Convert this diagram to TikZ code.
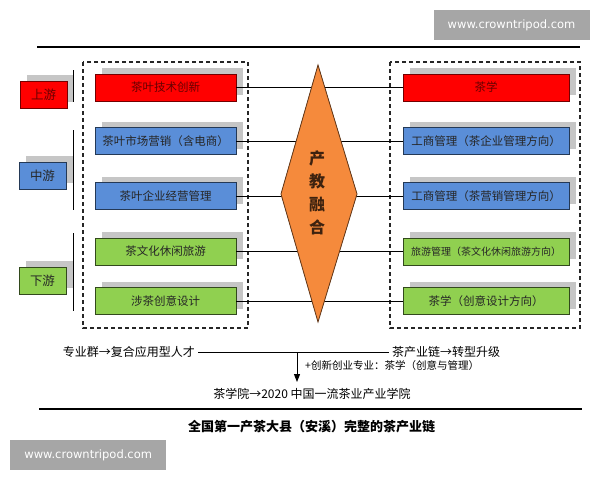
\documentclass[tikz,border=0pt]{standalone}
\usepackage{fontspec}
\setmainfont{Noto Sans CJK SC}
\newfontfamily\webfont{DejaVu Sans}
\usetikzlibrary{arrows.meta,shadows}
\definecolor{upred}{HTML}{FF0000}
\definecolor{midblue}{HTML}{5A8ED8}
\definecolor{downgreen}{HTML}{90D050}
\definecolor{fuseorange}{HTML}{F58A3C}
\definecolor{shade}{HTML}{C6C6C6}
\definecolor{markgray}{HTML}{A6A6A6}

\begin{document}
\begin{tikzpicture}[x=1pt,y=-1pt,>={Triangle[length=8pt,width=6pt]},
 box/.style={draw,line width=0.8pt,minimum height=27pt,inner sep=1pt,font=\fontsize{11.5}{13}\selectfont,
  general shadow={fill=shade,shadow xshift=7pt,shadow yshift=6pt}},
 lbox/.style={box,minimum width=141pt},
 rbox/.style={box,minimum width=166pt},
 lvl/.style={box,minimum width=47pt,font=\fontsize{12.5}{14}\selectfont},
 redbox/.style={fill=upred,draw=upred!45!black,text=upred!40!black},
 bluebox/.style={fill=midblue,draw=midblue!40!black,text=black!85},
 greenbox/.style={fill=downgreen,draw=downgreen!35!black,text=black!85},
 frame/.style={draw=black!85,line width=1.3pt,dash pattern=on 4pt off 3pt},
 rule/.style={line width=2pt},
 wmark/.style={fill=markgray,text=white,font=\webfont\fontsize{11.5}{13}\selectfont,minimum width=156pt,minimum height=30pt,inner sep=0pt},
 note/.style={font=\fontsize{12}{14}\selectfont,inner sep=3pt}]
\useasboundingbox[fill=white] (0,0) rectangle (600,480);
\node[wmark] (wtop) at (511.5,25) {www.crowntripod.com};
\node[wmark,anchor=north west] (wbot) at (10,440) {www.crowntripod.com};
\draw[rule] (37,47) -- (580,47);
% dashed frames
\draw[frame] (83,62) rectangle (248,328);
\draw[frame] (390,62) rectangle (580,328);
% levels
\node[lvl,redbox] (up) at (43.5,94.5) {上游};
\node[lvl,bluebox] (mid) at (42.5,175.5) {中游};
\node[lvl,greenbox] (down) at (42.5,280.5) {下游};
\draw[line width=1pt] (73,70) -- (73,102);
\draw[line width=1pt] (73,130) -- (73,210);
\draw[line width=1pt] (73,233) -- (73,311);
% majors (left) and programmes (right)
\node[lbox,redbox] (l1) at (165.5,87.5) {茶叶技术创新};
\node[lbox,bluebox] (l2) at (165.5,141) {茶叶市场营销（含电商）};
\node[lbox,bluebox] (l3) at (165.5,196) {茶叶企业经营管理};
\node[lbox,greenbox] (l4) at (165.5,251.5) {茶文化休闲旅游};
\node[lbox,greenbox] (l5) at (165.5,301) {涉茶创意设计};
\node[rbox,redbox] (r1) at (486,87.5) {茶学};
\node[rbox,bluebox] (r2) at (486,141) {工商管理（茶企业管理方向）};
\node[rbox,bluebox] (r3) at (486,196) {工商管理（茶营销管理方向）};
\node[rbox,greenbox,font=\fontsize{10}{12}\selectfont] (r4) at (486,251.5) {旅游管理（茶文化休闲旅游方向）};
\node[rbox,greenbox] (r5) at (486,301) {茶学（创意设计方向）};
% fusion diamond
\coordinate (dtop) at (318,65);
\coordinate (dright) at (357,194);
\coordinate (dbot) at (318,322);
\coordinate (dleft) at (281,194);
\fill[shade,xshift=8pt,yshift=6pt] (dtop) -- (dright) -- (dbot) -- (dleft) -- cycle;
\foreach \r in {1,...,5}{\draw[line width=0.9pt] (l\r.east) -- (r\r.west);}
\draw[fill=fuseorange,draw=fuseorange!40!black,line width=0.8pt] (dtop) -- (dright) -- (dbot) -- (dleft) -- cycle;
\node[font=\fontsize{16}{23}\selectfont\bfseries,text=fuseorange!25!black,align=center] (fuse) at (317,193) {产\\教\\融\\合};
% outcome
\node[note,anchor=east] (talent) at (198,352) {专业群→复合应用型人才};
\node[note,anchor=west] (chain) at (389,352) {茶产业链→转型升级};
\draw[line width=1pt] (talent) -- (chain);
\coordinate (split) at (297,352);
\coordinate (tip) at (297,382);
\draw[line width=1pt,->] (split) -- (tip);
\node[note,anchor=west,font=\fontsize{10.5}{12}\selectfont] (plus) at (302,366) {+创新创业专业：茶学（创意与管理）};
\node[note] (school) at (312,394) {茶学院→2020 中国一流茶业产业学院};
\draw[rule] (39,409) -- (582,409);
\node[font=\fontsize{13}{15}\selectfont\bfseries] (title) at (311.5,427) {全国第一产茶大县（安溪）完整的茶产业链};
\end{tikzpicture}
\end{document}
